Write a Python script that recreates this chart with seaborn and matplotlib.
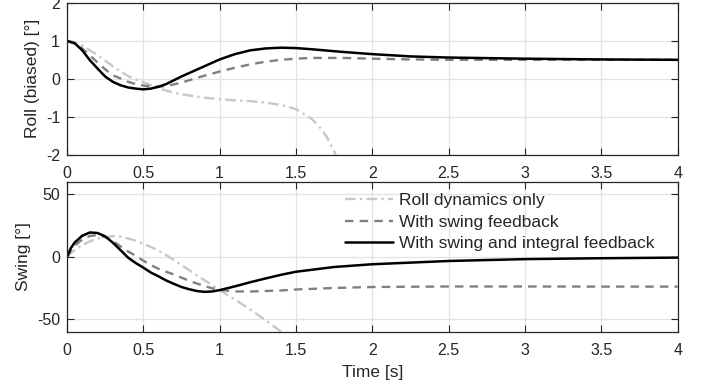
import numpy as np
import pandas as pd
import matplotlib
matplotlib.use('Agg')
import matplotlib.pyplot as plt
from matplotlib.ticker import FuncFormatter
import seaborn as sns

# Valores
t_roll_only = [0, 0.05, 0.1, 0.15, 0.2, 0.25, 0.3, 0.35, 0.4, 0.45, 0.5, 0.55, 0.6, 0.65, 0.7, 0.75,
               0.8, 0.9, 1.0, 1.1, 1.2, 1.3, 1.4, 1.5, 1.6, 1.65, 1.7, 1.75, 1.8]
roll_only = [1.0, 0.96, 0.88, 0.75, 0.63, 0.48, 0.33, 0.2, 0.07, -0.02, -0.09, -0.17, -0.25, -0.31, -0.37, -0.41,
             -0.44, -0.5, -0.54, -0.57, -0.59, -0.63, -0.69, -0.8, -1.05, -1.25, -1.52, -1.92, -2.4]

t_roll = [0, 0.05, 0.1, 0.15, 0.2, 0.25, 0.3, 0.35, 0.4, 0.45, 0.5, 0.55, 0.6, 0.65, 0.7, 0.75,
          0.8, 0.9, 1.0, 1.1, 1.2, 1.3, 1.4, 1.5, 1.6, 1.8, 2.0, 2.25, 2.5, 3.0, 3.5, 4.0]
roll_swing = [1.0, 0.93, 0.8, 0.62, 0.43, 0.25, 0.09, 0.01, -0.08, -0.14, -0.18, -0.2, -0.21, -0.19, -0.15, -0.1,
              -0.04, 0.08, 0.19, 0.29, 0.38, 0.45, 0.5, 0.53, 0.55, 0.55, 0.53, 0.51, 0.5, 0.5, 0.5, 0.5]
roll_integral = [1.0, 0.94, 0.75, 0.49, 0.27, 0.06, -0.08, -0.17, -0.23, -0.26, -0.28, -0.26, -0.21, -0.14, -0.04, 0.06,
                 0.15, 0.33, 0.51, 0.65, 0.75, 0.8, 0.82, 0.81, 0.78, 0.71, 0.65, 0.59, 0.56, 0.53, 0.51, 0.5]

t_swing_only = [0, 0.025, 0.05, 0.1, 0.15, 0.2, 0.25, 0.3, 0.35, 0.4, 0.45, 0.5, 0.55, 0.6, 0.65, 0.7, 0.75,
                0.8, 0.9, 1.0, 1.1, 1.2, 1.3, 1.4, 1.45]
swing_only = [0, 3, 5.5, 9.5, 12.5, 14.7, 16, 16.7, 16.3, 14.8, 13, 10.5, 8, 5, 1.5, -2.5, -6.5,
              -10.5, -18.5, -26.5, -34, -42, -50.5, -59.5, -64]

t_swing = [0, 0.025, 0.05, 0.1, 0.15, 0.2, 0.25, 0.3, 0.35, 0.4, 0.45, 0.5, 0.55, 0.6, 0.65, 0.7, 0.75,
           0.8, 0.85, 0.9, 0.95, 1.0, 1.1, 1.2, 1.3, 1.4, 1.5, 1.75, 2.0, 2.5, 3.0, 3.5, 4.0]
swing_swing = [0, 5, 9, 14, 16.8, 17.5, 16, 13, 8.5, 4.5, 1, -3, -6.5, -9.5, -11.8, -14, -16.5,
               -19, -21.2, -23.2, -25, -26.3, -27.6, -27.6, -27.2, -26.8, -26, -24.8, -24, -23.6, -23.6, -23.7, -23.7]
swing_integral = [0, 7, 11.5, 17, 19.6, 19.2, 16.5, 11.5, 5.6, -0.5, -4.8, -8.5, -12.5, -15.5, -18.8, -21.5, -24,
                  -25.8, -27.2, -27.9, -27.6, -26.5, -23.5, -20.2, -17.2, -14.3, -11.8, -8, -5.8, -3.2, -1.7, -1.0, -0.5]

labels = ['Roll dynamics only', 'With swing feedback', 'With swing and integral feedback']
x_ticks = [0, 0.5, 1, 1.5, 2, 2.5, 3, 3.5, 4]

sns.set_style('ticks')
plt.rcParams['font.family'] = ['Liberation Sans', 'DejaVu Sans']
plt.rcParams['axes.unicode_minus'] = False

c_only = '#c8c8c8'
c_swing = '#808080'
c_int = 'black'
ls_only = (0, (4.5, 1.8, 1, 1.8))
ls_swing = (0, (3.6, 2.6))

fig = plt.figure(figsize=(7.02, 3.85), dpi=100)
ax1 = fig.add_axes([0.0954, 0.5987, 0.870, 0.3935])
ax2 = fig.add_axes([0.0954, 0.1377, 0.870, 0.3896])

# Roll
sns.lineplot(x=t_roll_only, y=roll_only, ax=ax1, color=c_only, lw=1.7, linestyle=ls_only)
sns.lineplot(x=t_roll, y=roll_swing, ax=ax1, color=c_swing, lw=1.7, linestyle=ls_swing)
sns.lineplot(x=t_roll, y=roll_integral, ax=ax1, color=c_int, lw=1.8)

# Swing
sns.lineplot(x=t_swing_only, y=swing_only, ax=ax2, color=c_only, lw=1.7, linestyle=ls_only, label=labels[0])
sns.lineplot(x=t_swing, y=swing_swing, ax=ax2, color=c_swing, lw=1.7, linestyle=ls_swing, label=labels[1])
sns.lineplot(x=t_swing, y=swing_integral, ax=ax2, color=c_int, lw=1.8, label=labels[2])

fmt = FuncFormatter(lambda v, p: '%g' % v)
for ax in (ax1, ax2):
    ax.set_xlim(0, 4)
    ax.set_xticks(x_ticks)
    ax.xaxis.set_major_formatter(fmt)
    ax.grid(True, color='#e3e3e3', lw=0.9)
    ax.set_axisbelow(True)
    ax.tick_params(direction='in', length=5, width=0.8, colors='#262626', labelsize=11.5,
                   top=True, right=True, pad=5)
    ax.tick_params(axis='x', pad=8)
    for s in ax.spines.values():
        s.set_color('#262626')
        s.set_linewidth(0.9)

ax1.set_ylim(-2, 2)
ax1.set_yticks([-2, -1, 0, 1, 2])
ax1.set_ylabel('Roll (biased) [°]', fontsize=12.5, color='#262626')

ax2.set_ylim(-60, 60)
ax2.set_yticks([-50, 0, 50])
ax2.set_ylabel('Swing [°]', fontsize=12.5, color='#262626')
ax2.set_xlabel('Time [s]', fontsize=12.5, color='#262626', labelpad=5)

ax2.legend(loc='upper left', bbox_to_anchor=(345 / 702, 1 - 193 / 385), bbox_transform=fig.transFigure,
           frameon=False, fontsize=12.5, handlelength=2.75, handletextpad=0.35, labelspacing=0.37,
           borderpad=0, borderaxespad=0)

fig.savefig('out.png', dpi=100)
